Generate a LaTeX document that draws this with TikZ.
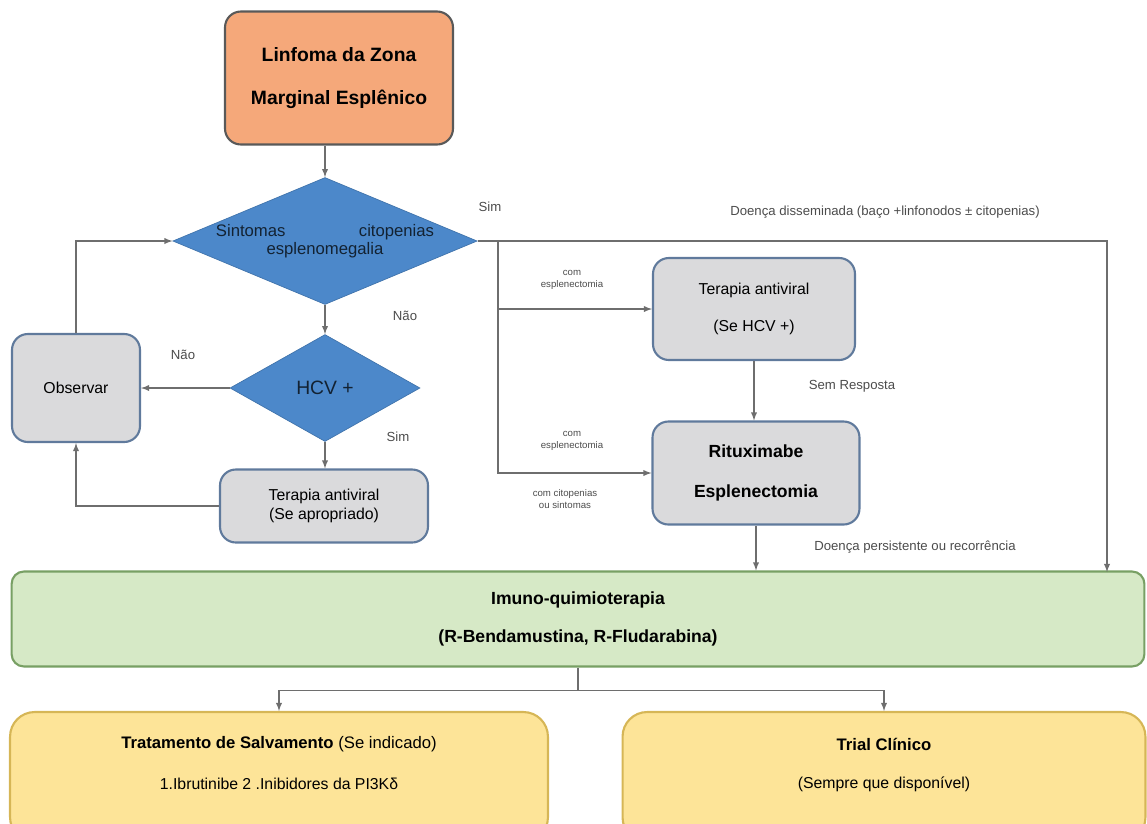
\documentclass[tikz,border=0pt]{standalone}
\usepackage{fontspec}
\setmainfont{Liberation Sans}
\usetikzlibrary{shapes.geometric,calc,arrows}
\tikzset{>=latex}

\definecolor{laranja}{RGB}{245,168,122}
\definecolor{azul}{RGB}{76,136,202}
\definecolor{azulborda}{RGB}{96,122,156}
\definecolor{cinza}{RGB}{218,218,220}
\definecolor{verde}{RGB}{214,233,198}
\definecolor{verdeborda}{RGB}{120,160,100}
\definecolor{amarelo}{RGB}{253,228,152}
\definecolor{amareloborda}{RGB}{214,182,86}
\definecolor{linha}{RGB}{110,110,110}

\tikzset{
    caixa/.style={draw=azulborda, line width=1.2pt, rounded corners=9pt, fill=cinza,
        align=center, inner sep=0pt, font=\fontsize{9}{11}\selectfont},
    decisao/.style={diamond, fill=azul, draw=azul!85!black, inner sep=0pt, align=center,
        text=azul!25!black},
    seta/.style={->, draw=linha, line width=0.6pt},
    rotulo/.style={text=black!70, font=\fontsize{7.5}{8.5}\selectfont, align=center},
    pequeno/.style={text=black!70, font=\fontsize{5.5}{6.5}\selectfont, align=center},
}

\begin{document}
\begin{tikzpicture}[x=0.02cm, y=-0.02cm]
    \useasboundingbox (0,0) rectangle (1147,823);

    % Topo
    \node[caixa, draw=black!65, fill=laranja, minimum width=4.56cm, minimum height=2.66cm,
        font=\fontsize{11}{13}\selectfont\bfseries] (lzm) at (339,78)
        {Linfoma da Zona\\[11pt] Marginal Esplênico};

    % Decisoes
    \node[decisao, shape aspect=2.6, minimum width=5.7cm, minimum height=2.54cm,
        font=\fontsize{9.5}{11}\selectfont] (sint) at (325,241)
        {Sintomas\hspace{4.4em}citopenias\\[-1pt] esplenomegalia};
    \node[decisao, shape aspect=1.8, minimum width=3.8cm, minimum height=2.14cm,
        font=\fontsize{11}{13}\selectfont] (hcv) at (325,388) {HCV +};

    % Caixas
    \node[caixa, minimum width=2.56cm, minimum height=2.16cm] (obs) at (76,388) {Observar};
    \node[caixa, minimum width=4.16cm, minimum height=1.46cm] (tap) at (324,506)
        {Terapia antiviral\\(Se apropriado)};
    \node[caixa, minimum width=4.04cm, minimum height=2.04cm] (tah) at (754,309)
        {Terapia antiviral\\[10pt] (Se HCV +)};
    \node[caixa, minimum width=4.14cm, minimum height=2.06cm,
        font=\fontsize{10}{12}\selectfont\bfseries] (rit) at (756,473)
        {Rituximabe\\[11pt] Esplenectomia};

    \node[caixa, draw=verdeborda, fill=verde, rounded corners=7pt, minimum width=22.66cm,
        minimum height=1.9cm, font=\fontsize{10}{12}\selectfont\bfseries] (imu) at (578,619)
        {Imuno-quimioterapia\\[10pt] (R-Bendamustina, R-Fludarabina)};

    \node[caixa, draw=amareloborda, fill=amarelo, rounded corners=14pt, minimum width=10.76cm,
        minimum height=2.6cm] (sal) at (279,777) {};
    \node[caixa, draw=amareloborda, fill=amarelo, rounded corners=14pt, minimum width=10.46cm,
        minimum height=2.6cm] (tri) at (884,777) {};
    \node[font=\fontsize{9.5}{11}\selectfont] (salT) at ($(sal.north)+(0,33)$)
        {\textbf{Tratamento de Salvamento} (Se indicado)};
    \node[font=\fontsize{9}{11}\selectfont] (salL) at ($(sal.north)+(0,73)$)
        {1.Ibrutinibe 2 .Inibidores da PI3Kδ};
    \node[font=\fontsize{9.5}{11}\selectfont\bfseries] (triT) at ($(tri.north)+(0,33)$)
        {Trial Clínico};
    \node[font=\fontsize{9}{11}\selectfont] (triL) at ($(tri.north)+(0,73)$)
        {(Sempre que disponível)};

    % Conexoes
    \coordinate (br) at (498,241);
    \coordinate (dis) at (1107,572);
    \draw[seta] (lzm.south -| sint.north) -- (sint.north);
    \draw[seta] (sint.south) -- (hcv.north);
    \draw[seta] (hcv.west) -- (hcv.west -| obs.east);
    \draw[seta] (hcv.south) -- (hcv.south |- tap.north);
    \draw[seta] (tap.west) -| (obs.south);
    \draw[seta] (obs.north) |- (sint.west);
    \draw[seta] (sint.east) -| (dis);
    \draw[seta] (br) |- (rit.west);
    \draw[seta] (br |- tah.west) -- (tah.west);
    \draw[seta] (tah.south) -- (tah.south |- rit.north);
    \draw[seta] (rit.south) -- (rit.south |- imu.north);
    \draw[draw=linha, line width=0.6pt] (imu.south) -- ++(0,23) coordinate (sp);
    \draw[seta] (sp) -| (sal.north);
    \draw[seta] (sp) -| (tri.north);

    % Rotulos
    \node[rotulo] at (490,207) {Sim};
    \node[rotulo] at (405,316) {Não};
    \node[rotulo] at (183,355) {Não};
    \node[rotulo] at (398,437) {Sim};
    \node[rotulo] at (885,212) {Doença disseminada (baço +linfonodos ± citopenias)};
    \node[pequeno] at (572,280) {com\\esplenectomia};
    \node[pequeno] at (572,441) {com\\esplenectomia};
    \node[pequeno] at (565,499) {com citopenias\\ou sintomas};
    \node[rotulo] at (852,386) {Sem Resposta};
    \node[rotulo] at (915,547) {Doença persistente ou recorrência};
\end{tikzpicture}
\end{document}
